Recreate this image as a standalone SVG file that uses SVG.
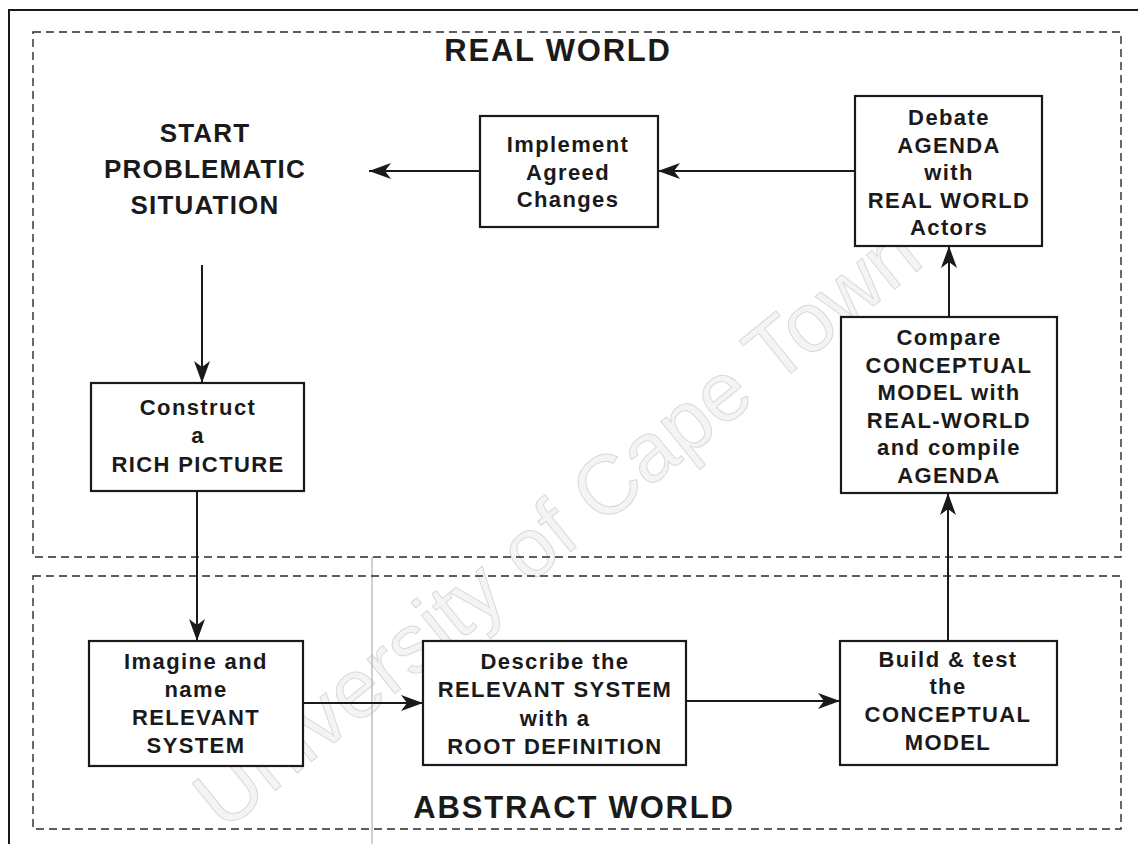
<svg xmlns="http://www.w3.org/2000/svg" width="1138" height="844" viewBox="0 0 1138 844">
  <style>
    .frame { fill: none; stroke: #1a1a1a; stroke-width: 2; }
    .zone { fill: none; stroke: #2a2a2a; stroke-width: 1.4; stroke-dasharray: 8 5; }
    .box { fill: #ffffff; stroke: #1a1a1a; stroke-width: 2.2; }
    .lbl { font-family: "Liberation Sans", Arial, sans-serif; font-weight: bold; font-size: 22px; letter-spacing: 1.4px; fill: #1a1a1a; text-anchor: middle; }
    .head { font-family: "Liberation Sans", Arial, sans-serif; font-weight: bold; font-size: 31px; letter-spacing: 1.8px; fill: #1a1a1a; text-anchor: middle; }
    .start { font-family: "Liberation Sans", Arial, sans-serif; font-weight: bold; font-size: 26px; letter-spacing: 1.2px; fill: #1a1a1a; text-anchor: middle; }
    .conn { fill: none; stroke: #1a1a1a; stroke-width: 2; marker-end: url(#arrow); }
    .mark { font-family: "Liberation Sans", Arial, sans-serif; font-size: 84px; fill: #f4f4f4; stroke: #d9d9d9; stroke-width: 1; text-anchor: middle; }
  </style>
  <defs>
    <marker id="arrow" markerUnits="userSpaceOnUse" markerWidth="24" markerHeight="18" refX="22" refY="8" orient="auto">
      <path d="M22,8 L0,0 L6,8 L0,16 Z" fill="#1a1a1a"/>
    </marker>
  </defs>

  <rect width="1138" height="844" fill="#ffffff"/>

  <!-- faint background lettering -->
  <text class="mark" transform="translate(575,548) rotate(-39)">University of Cape Town</text>

  <!-- outer frame (top and left edges only) -->
  <path class="frame" d="M9,844 L9,10 L1138,10"/>
  <!-- thin vertical rule through the lower zone -->
  <line x1="372" y1="557" x2="372" y2="844" stroke="#a0a0a0" stroke-width="1"/>

  <!-- zones -->
  <g id="zone-real">
    <rect class="zone" x="33" y="32" width="1088" height="525"/>
    <text class="head" x="558" y="61">REAL WORLD</text>
  </g>
  <g id="zone-abstract">
    <rect class="zone" x="33" y="576" width="1088" height="253"/>
    <text class="head" x="574" y="818">ABSTRACT WORLD</text>
  </g>

  <!-- connectors -->
  <g id="connectors">
    <path class="conn" d="M480,171 L369,171"/>
    <path class="conn" d="M855,171 L658,171"/>
    <path class="conn" d="M202,265 L202,383"/>
    <path class="conn" d="M197,491 L197,641"/>
    <path class="conn" d="M303,703 L423,703"/>
    <path class="conn" d="M686,701 L840,701"/>
    <path class="conn" d="M948,641 L948,493"/>
    <path class="conn" d="M949,317 L949,246"/>
  </g>

  <!-- nodes -->
  <g id="start">
    <text class="start" x="205" y="142">START</text>
    <text class="start" x="205" y="178">PROBLEMATIC</text>
    <text class="start" x="205" y="214">SITUATION</text>
  </g>

  <g id="implement">
    <rect class="box" x="480" y="116" width="178" height="111"/>
    <text class="lbl" x="568" y="152">Implement</text>
    <text class="lbl" x="568" y="180">Agreed</text>
    <text class="lbl" x="568" y="207">Changes</text>
  </g>

  <g id="debate">
    <rect class="box" x="855" y="96" width="187" height="150"/>
    <text class="lbl" x="949" y="125">Debate</text>
    <text class="lbl" x="949" y="153">AGENDA</text>
    <text class="lbl" x="949" y="180">with</text>
    <text class="lbl" x="949" y="208">REAL WORLD</text>
    <text class="lbl" x="949" y="235">Actors</text>
  </g>

  <g id="compare">
    <rect class="box" x="841" y="317" width="216" height="176"/>
    <text class="lbl" x="949" y="345">Compare</text>
    <text class="lbl" x="949" y="373">CONCEPTUAL</text>
    <text class="lbl" x="949" y="400">MODEL with</text>
    <text class="lbl" x="949" y="428">REAL-WORLD</text>
    <text class="lbl" x="949" y="455">and compile</text>
    <text class="lbl" x="949" y="483">AGENDA</text>
  </g>

  <g id="construct">
    <rect class="box" x="91" y="383" width="213" height="108"/>
    <text class="lbl" x="198" y="415">Construct</text>
    <text class="lbl" x="198" y="443">a</text>
    <text class="lbl" x="198" y="472">RICH PICTURE</text>
  </g>

  <g id="imagine">
    <rect class="box" x="89" y="641" width="214" height="125"/>
    <text class="lbl" x="196" y="669">Imagine and</text>
    <text class="lbl" x="196" y="697">name</text>
    <text class="lbl" x="196" y="725">RELEVANT</text>
    <text class="lbl" x="196" y="753">SYSTEM</text>
  </g>

  <g id="describe">
    <rect class="box" x="423" y="641" width="263" height="124"/>
    <text class="lbl" x="555" y="669">Describe the</text>
    <text class="lbl" x="555" y="697">RELEVANT SYSTEM</text>
    <text class="lbl" x="555" y="726">with a</text>
    <text class="lbl" x="555" y="754">ROOT DEFINITION</text>
  </g>

  <g id="build">
    <rect class="box" x="840" y="641" width="217" height="124"/>
    <text class="lbl" x="948" y="667">Build &amp; test</text>
    <text class="lbl" x="948" y="694">the</text>
    <text class="lbl" x="948" y="722">CONCEPTUAL</text>
    <text class="lbl" x="948" y="750">MODEL</text>
  </g>
</svg>
